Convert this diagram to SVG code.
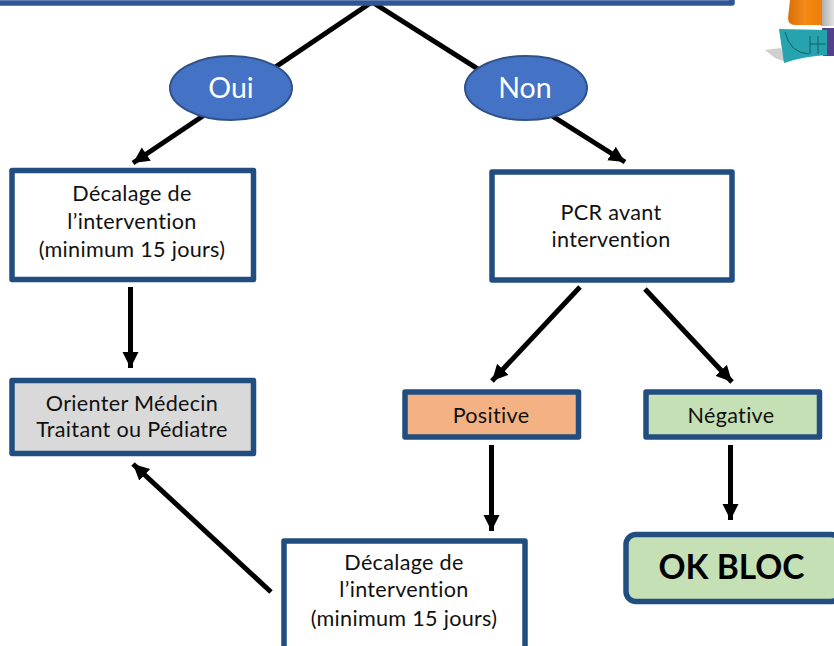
<svg xmlns="http://www.w3.org/2000/svg" width="834" height="646" viewBox="0 0 834 646">
<style>
text{font-family:Lato,"Open Sans","Liberation Sans",sans-serif;font-size:21.6px;letter-spacing:.3px;font-variant-ligatures:none;fill:#111;text-anchor:middle}
.box{fill:#fff;stroke:#214d80;stroke-width:5.5;stroke-linejoin:round}
.ell{fill:#4472c4;stroke:#2f5288;stroke-width:2}
.w{fill:#fff;font-size:28.5px;letter-spacing:0}
.c{stroke:#000;stroke-width:5;fill:none}
.a{marker-end:url(#ah)}
</style>
<defs>
<marker id="ah" markerUnits="userSpaceOnUse" markerWidth="18" markerHeight="18" refX="16" refY="8" orient="auto"><path d="M0 0L16 8L0 16Z" fill="#000"/></marker>
<linearGradient id="or" x1="0" x2="1"><stop offset="0" stop-color="#d96f10"/><stop offset=".5" stop-color="#f58a12"/><stop offset="1" stop-color="#ee7d0c"/></linearGradient>
<linearGradient id="gy" x1="0" x2="1"><stop offset="0" stop-color="#aaa"/><stop offset="1" stop-color="#e4e4e4"/></linearGradient>
<filter id="soft"><feGaussianBlur stdDeviation="0.7"/></filter>
</defs>
<g id="logo" filter="url(#soft)">
<path d="M765 50L781 48L786 62L775 58Z" fill="#bbb" opacity=".7"/>
<rect x="821" y="0" width="13" height="26" fill="url(#gy)"/>
<path d="M790 0H822V25H795Q788 25 788 18Z" fill="url(#or)"/>
<path d="M822 28H834V56H823Z" fill="#54408c"/>
<path d="M779 29L827 30V55Q805 56 784 63Z" fill="#25a3ad"/>
<path d="M785 32Q790 53 809 54M810 36V54M810 44H826M818 36V54" stroke="#14606b" stroke-width="1" fill="none"/>
</g>
<g id="connectors">
<path class="c a" d="M372 2L133 163"/>
<path class="c a" d="M372 2L625 162"/>
<path class="c a" d="M130.500 287V368"/>
<path class="c a" d="M580 287L492 381"/>
<path class="c a" d="M645 289L732 382"/>
<path class="c a" d="M491.500 445V531"/>
<path class="c a" d="M730.500 445V520"/>
<path class="c a" d="M271 592L133 464"/>
</g>
<g id="top"><rect x="-10" y="-20" width="742" height="23" class="box" style="stroke:#2f5597"/></g>
<g id="oui"><ellipse cx="231" cy="88" rx="61" ry="32" class="ell"/><text x="231" y="98" class="w">Oui</text></g>
<g id="non"><ellipse cx="526" cy="88" rx="61" ry="32" class="ell"/><text x="525" y="98" class="w">Non</text></g>
<g id="decalage1"><rect x="12" y="170.500" width="241.500" height="109" class="box"/><text x="132" y="201">Décalage de</text><text x="132" y="229">l’intervention</text><text x="132" y="257">(minimum 15 jours)</text></g>
<g id="pcr"><rect x="492" y="172" width="240" height="108" class="box"/><text x="611" y="220">PCR avant</text><text x="611" y="247">intervention</text></g>
<g id="orienter"><rect x="12" y="380.500" width="241.500" height="73" class="box" style="fill:#d9d9d9"/><text x="132" y="411">Orienter Médecin</text><text x="132" y="437">Traitant ou Pédiatre</text></g>
<g id="positive"><rect x="405" y="392" width="173.500" height="45" class="box" style="fill:#f4b183"/><text x="491" y="423">Positive</text></g>
<g id="negative"><rect x="646" y="392" width="173.500" height="45" class="box" style="fill:#c5e0b4"/><text x="731" y="423">Négative</text></g>
<g id="decalage2"><rect x="284" y="541" width="241" height="110" class="box"/><text x="404" y="570">Décalage de</text><text x="404" y="597">l’intervention</text><text x="404" y="626">(minimum 15 jours)</text></g>
<g id="ok"><rect x="626" y="534.500" width="215" height="67" rx="10" class="box" style="fill:#c5e0b4"/><text x="731.500" y="579" style="font-size:33.500px;font-weight:700;fill:#000;letter-spacing:0">OK BLOC</text></g>
</svg>
